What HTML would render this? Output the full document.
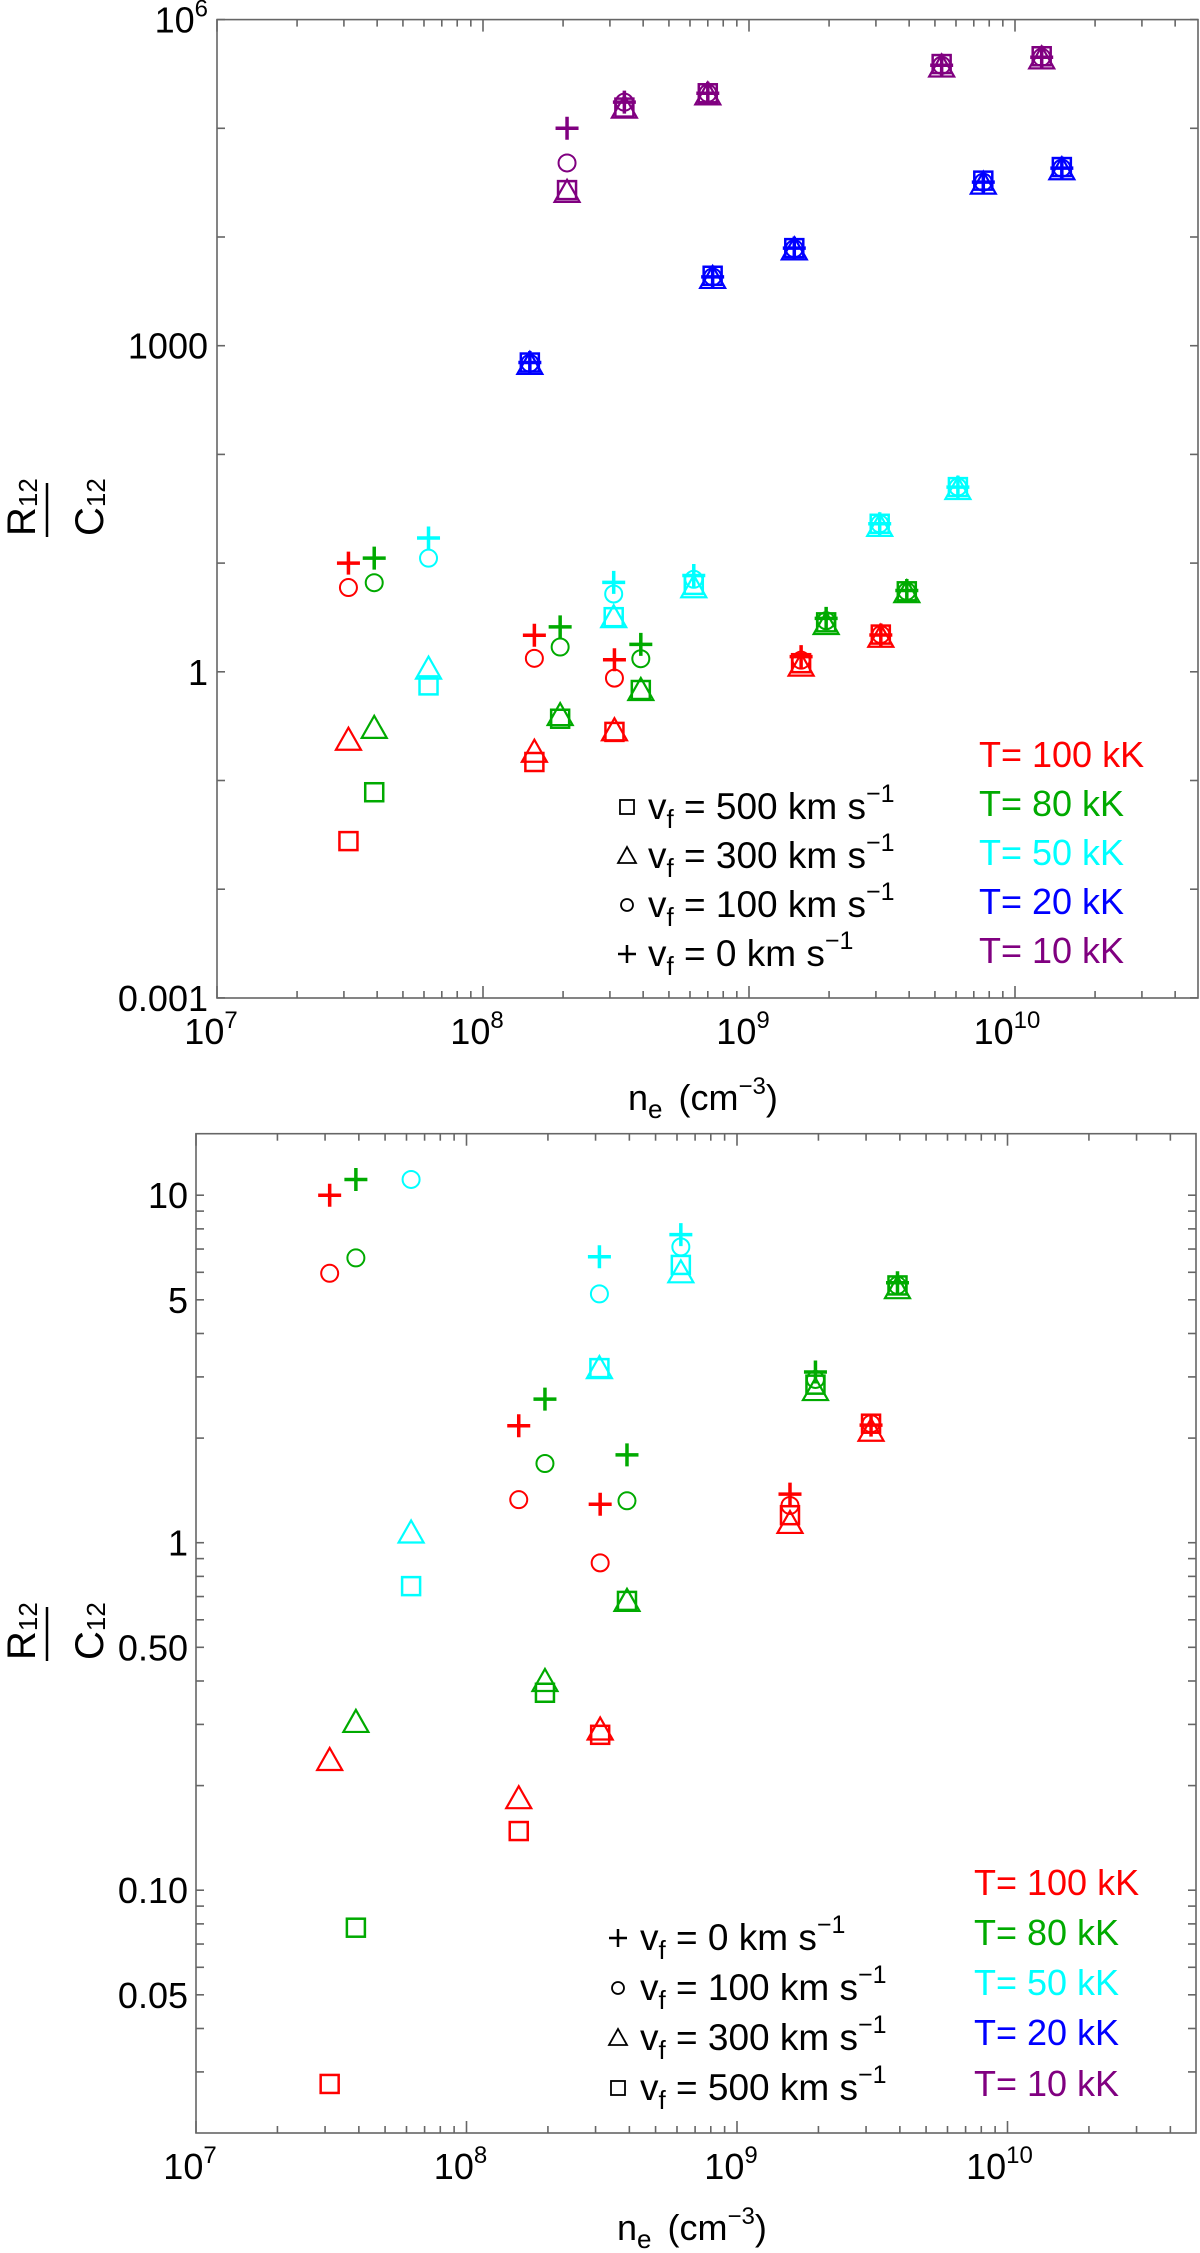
<!DOCTYPE html>
<html><head><meta charset="utf-8"><style>
html,body{margin:0;padding:0;background:#fff;}
svg{display:block;font-family:"Liberation Sans",Arial,sans-serif;}
</style></head><body>
<svg id="fig" width="1200" height="2253" viewBox="0 0 1200 2253" xmlns="http://www.w3.org/2000/svg">
<defs>
<clipPath id="clipA"><rect x="217" y="19.6" width="981" height="978.4"/></clipPath>
<clipPath id="clipB"><rect x="196" y="1133.7" width="1000" height="999.3"/></clipPath>
</defs>
<g id="plotA"></g>
<g id="plotB"></g>
</svg>
<script>
// ---- data: electron density per temperature group ----
const temps = ["100", "80", "50", "20", "10"];
const tempColors = ["#ff0000", "#00aa00", "#00ffff", "#0000ff", "#800080"];
const ne100 = [3.12e7, 1.56e8, 3.12e8, 1.57e9, 3.13e9];
const ne80 = [3.9e7, 1.95e8, 3.92e8, 1.95e9, 3.92e9];
const ne50 = [6.24e7, 3.1e8, 6.2e8, 3.1e9, 6.1e9];
const ne20 = [1.5e8, 7.3e8, 1.48e9, 7.6e9, 1.5e10];
const ne10 = [2.07e8, 3.4e8, 7.0e8, 5.3e9, 1.26e10];
// ratio R12/C12 per velocity (v0, v100, v300, v500)
const r100_v0 = [10, 2.17, 1.29, 1.38, 2.18];
const r100_v100 = [5.96, 1.33, 0.875, 1.28, 2.2];
const r100_v300 = [0.237, 0.184, 0.29, 1.14, 2.1];
const r100_v500 = [0.0277, 0.148, 0.28, 1.2, 2.2];
const r80_v0 = [11.1, 2.59, 1.79, 3.1, 5.6];
const r80_v100 = [6.6, 1.69, 1.32, 2.95, 5.5];
const r80_v300 = [0.305, 0.4, 0.68, 2.75, 5.4];
const r80_v500 = [0.078, 0.37, 0.68, 2.85, 5.5];
const r50_v0 = [17, 6.65, 7.7, 23, 50];
const r50_v100 = [11.1, 5.2, 7.1, 23, 50];
const r50_v300 = [1.07, 3.18, 6.0, 22, 48];
const r50_v500 = [0.75, 3.18, 6.3, 23, 50];
const r20_v0 = [700, 4300, 7900, 32000, 43000];
const r20_v100 = [690, 4300, 7800, 32000, 43000];
const r20_v300 = [680, 4200, 7700, 31000, 42000];
const r20_v500 = [700, 4400, 7900, 33000, 44000];
const r10_v0 = [1.0e5, 1.74e5, 2.1e5, 3.8e5, 4.5e5];
const r10_v100 = [4.8e4, 1.74e5, 2.1e5, 3.8e5, 4.5e5];
const r10_v300 = [2.6e4, 1.55e5, 2.05e5, 3.7e5, 4.4e5];
const r10_v500 = [2.7e4, 1.55e5, 2.1e5, 3.9e5, 4.6e5];
const velocities = ["500", "300", "100", "0"];
const markerTypes = ["square", "triangle", "circle", "plus"];
const topYTicks = [1e6, 1e3, 1, 1e-3];
const topYTickLabels = ["10^6", "1000", "1", "0.001"];
const botYTicks = [10, 5, 1, 0.5, 0.1, 0.05];
const botYTickLabels = ["10", "5", "1", "0.50", "0.10", "0.05"];
const xTickExps = [7, 8, 9, 10];

const groups = [
  {ne: ne100, s: [r100_v500, r100_v300, r100_v100, r100_v0]},
  {ne: ne80, s: [r80_v500, r80_v300, r80_v100, r80_v0]},
  {ne: ne50, s: [r50_v500, r50_v300, r50_v100, r50_v0]},
  {ne: ne20, s: [r20_v500, r20_v300, r20_v100, r20_v0]},
  {ne: ne10, s: [r10_v500, r10_v300, r10_v100, r10_v0]}
];

const NS = "http://www.w3.org/2000/svg";
function el(tag, attrs, parent) {
  const e = document.createElementNS(NS, tag);
  for (const k in attrs) e.setAttribute(k, attrs[k]);
  if (parent) parent.appendChild(e);
  return e;
}

function makeAxes(P) {
  P.sx = v => P.x0 + (Math.log10(v) - 7) * P.dx;
  P.sy = v => P.y0 + (P.ytop - Math.log10(v)) * P.dy;
}

const A = {g: document.getElementById("plotA"), x0: 217, x1: 1198, y0: 19.6, y1: 998, dx: 266, ytop: 6, dy: 108.7, clip: "clipA"};
const B = {g: document.getElementById("plotB"), x0: 196, x1: 1196, y0: 1133.7, y1: 2133, dx: 270.5, ytop: 1.177, dy: 347.5, clip: "clipB"};
makeAxes(A); makeAxes(B);

function drawMarker(parent, type, cx, cy, color) {
  let m;
  if (type === "plus") {
    m = el("path", {d: `M${cx-11.5},${cy}H${cx+11.5}M${cx},${cy-11.5}V${cy+11.5}`, stroke: color, "stroke-width": 3.5, fill: "none"}, parent);
  } else if (type === "circle") {
    m = el("circle", {cx: cx, cy: cy, r: 8.5, stroke: color, "stroke-width": 2, fill: "none"}, parent);
  } else if (type === "triangle") {
    m = el("polygon", {points: `${cx-12.5},${cy+10} ${cx+12.5},${cy+10} ${cx},${cy-12}`, stroke: color, "stroke-width": 2.2, fill: "none"}, parent);
  } else {
    m = el("rect", {x: cx-9, y: cy-9, width: 18, height: 18, stroke: color, "stroke-width": 2.5, fill: "none"}, parent);
  }
  return m;
}

function drawPanel(P, yTicks, yLabels, yMinor, yLabelX) {
  const g = P.g;
  const ax = el("g", {stroke: "#666", "stroke-width": 1.6, fill: "none"}, g);
  
  
  el("rect", {x: P.x0, y: P.y0, width: P.x1 - P.x0, height: P.y1 - P.y0}, ax);
  const xmaxExp = 7 + (P.x1 - P.x0) / P.dx;
  for (let e = 7; e < xmaxExp; e++) {
    for (let k = 1; k <= 9; k++) {
      const v = k * Math.pow(10, e);
      if (Math.log10(v) > xmaxExp) break;
      const x = P.sx(v);
      const len = k === 1 ? 12 : 7;
      el("line", {x1: x, y1: P.y1, x2: x, y2: P.y1 - len}, ax);
      el("line", {x1: x, y1: P.y0, x2: x, y2: P.y0 + len}, ax);
    }
  }
  const allY = yTicks.concat(yMinor);
  allY.forEach(v => {
    const y = P.sy(v);
    el("line", {x1: P.x0, y1: y, x2: P.x0 + 8, y2: y}, ax);
    el("line", {x1: P.x1, y1: y, x2: P.x1 - 8, y2: y}, ax);
  });
  yTicks.forEach((v, i) => {
    const y = P.sy(v);
    const lab = yLabels[i];
    const t = el("text", {x: yLabelX, y: y + 13, "text-anchor": "end", "font-size": 36, fill: "#000"}, g);
    
    
    if (lab.indexOf("^") > 0) {
      const parts = lab.split("^");
      t.textContent = parts[0];
      const s = el("tspan", {"font-size": 24, dy: -16}, t);
      s.textContent = parts[1];
    } else t.textContent = lab;
  });
  xTickExps.forEach(e => {
    const x = P.sx(Math.pow(10, e));
    const t = el("text", {x: x - (e >= 10 ? 8 : 6), y: P.y1 + 46, "text-anchor": "middle", "font-size": 36, fill: "#000"}, g);
    
    
    t.appendChild(document.createTextNode("10"));
    const s = el("tspan", {"font-size": 24, dy: -16}, t);
    s.textContent = String(e);
  });
  const dg = el("g", {"clip-path": `url(#${P.clip})`}, g);
  
  
  groups.forEach((grp, ti) => {
    grp.s.forEach((series, vi) => {
      const sg = el("g", {}, dg);
      
      
      series.forEach((val, i) => {
        const m = drawMarker(sg, markerTypes[vi], P.sx(grp.ne[i]), P.sy(val), tempColors[ti]);
        
        
      });
    });
  });
}

function addText(parent, x, y, size, color, parts, name) {
  const t = el("text", {x: x, y: y, "font-size": size, fill: color}, parent);
  parts.forEach(p => {
    const s = el("tspan", p.a || {}, t);
    s.textContent = p.t;
  });
  
  
  return t;
}

function yTitle(parent, cy) {
  const g = el("g", {transform: `translate(47,${cy}) rotate(-90)`}, parent);
  
  
  el("line", {x1: -27, y1: 0, x2: 27, y2: 0, stroke: "#000", "stroke-width": 2.5}, g);
  addText(g, -26, -12, 40, "#000", [{t: "R"}, {t: "12", a: {"font-size": 26, dy: 2}}], "y-title-numerator");
  addText(g, -26, 56, 40, "#000", [{t: "C"}, {t: "12", a: {"font-size": 26, dy: 2}}], "y-title-denominator");
}

function xTitle(parent, x, y) {
  addText(parent, x, y, 36, "#000", [{t: "n"}, {t: "e", a: {"font-size": 26, dy: 8}}, {t: "(cm", a: {dy: -8, dx: 16}}, {t: "\u22123", a: {"font-size": 24, dy: -16}}, {t: ")", a: {dy: 16}}], "x-axis-title");
}

function vLegend(parent, sx, tx, baselines, order) {
  const g = el("g", {}, parent);
  
  
  order.forEach((vi, r) => {
    const by = baselines[r];
    const cy = by - 12;
    const type = markerTypes[vi];
    let m;
    if (type === "plus") m = el("path", {d: `M${sx-9},${cy}H${sx+9}M${sx},${cy-9}V${cy+9}`, stroke: "#000", "stroke-width": 2.5, fill: "none"}, g);
    else if (type === "circle") m = el("circle", {cx: sx, cy: cy, r: 6, stroke: "#000", "stroke-width": 1.8, fill: "none"}, g);
    else if (type === "triangle") m = el("polygon", {points: `${sx-9},${cy+7} ${sx+9},${cy+7} ${sx},${cy-9}`, stroke: "#000", "stroke-width": 1.8, fill: "none"}, g);
    else m = el("rect", {x: sx-7, y: cy-7, width: 14, height: 14, stroke: "#000", "stroke-width": 1.8, fill: "none"}, g);
    
    
    addText(g, tx, by, 37, "#000", [{t: "v"}, {t: "f", a: {"font-size": 26, dy: 9}}, {t: " = " + velocities[vi] + " km s", a: {dy: -9}}, {t: "\u22121", a: {"font-size": 25, dy: -17}}], "legend-entry");
  });
}

function tLegend(parent, x, baselines) {
  const g = el("g", {}, parent);
  
  
  temps.forEach((tt, i) => {
    addText(g, x, baselines[i], 36, tempColors[i], [{t: "T= " + tt + " kK"}], "legend-entry-T" + tt);
  });
}

const topMinorY = [1e5, 1e4, 1e2, 10, 0.1, 0.01];
drawPanel(A, topYTicks, topYTickLabels, topMinorY, 208);
yTitle(A.g, 510);
xTitle(A.g, 628, 1110);
vLegend(A.g, 627, 648, [819, 868, 917, 966], [0, 1, 2, 3]);
tLegend(A.g, 979, [767, 816, 865, 914, 963]);

const botMinorY = [9, 8, 7, 6, 4, 3, 2, 0.9, 0.8, 0.7, 0.6, 0.4, 0.3, 0.2, 0.09, 0.08, 0.07, 0.06, 0.04, 0.03];
drawPanel(B, botYTicks, botYTickLabels, botMinorY, 188);
yTitle(B.g, 1634);
xTitle(B.g, 617, 2240);
vLegend(B.g, 618, 640, [1950, 2000, 2050, 2100], [3, 2, 1, 0]);
tLegend(B.g, 974, [1895, 1945, 1995, 2045, 2096]);
</script>
</body></html>
